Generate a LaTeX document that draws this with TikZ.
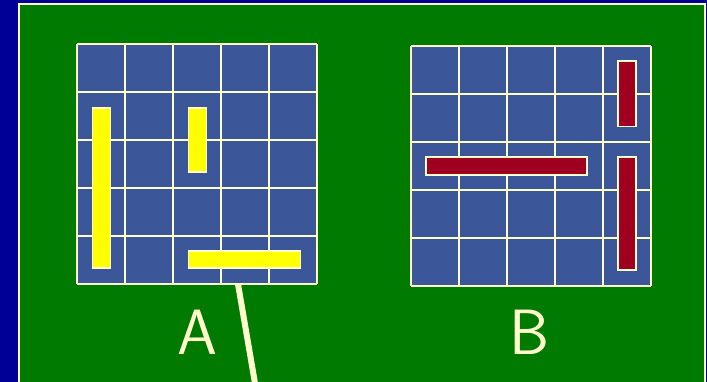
\documentclass[tikz,border=0pt]{standalone}
\usepackage{fontspec}
\definecolor{navy}{HTML}{000096}
\definecolor{field}{HTML}{007A00}
\definecolor{tileblue}{HTML}{3B5799}
\definecolor{cream}{HTML}{FFFFCC}
\definecolor{barred}{HTML}{A00020}
\definecolor{baryellow}{HTML}{FFFF00}
\tikzset{
  gridline/.style={draw=cream, line width=2pt},
  bar/.style={draw=cream, line width=1.3pt},
  letter/.style={text=cream, font=\sffamily\fontsize{64}{64}\selectfont, anchor=base}
}
\begin{document}
\begin{tikzpicture}[x=1pt, y=-1pt]
            \fill[navy] (0,0) rectangle (707,382);
            \useasboundingbox (0,0) rectangle (707,382);
            \filldraw[fill=field, draw=cream, line width=1.5pt] (19,4) rectangle (705,392);
            % board A
            \begin{scope}[shift={(76.5,44)}]
                \fill[tileblue] (0,0) rectangle (240,240);
                \foreach \i in {0,48,...,240} {
                    \draw[gridline] (\i,0) -- (\i,240);
                    \draw[gridline] (0,\i) -- (240,\i);
                }
                \filldraw[bar, fill=baryellow] (16,64) rectangle (34,224);
                \filldraw[bar, fill=baryellow] (112,64) rectangle (130,128);
                \filldraw[bar, fill=baryellow] (112,207) rectangle (224,224);
                \coordinate (footA) at (161.5,240);
            \end{scope}
            % board B
            \begin{scope}[shift={(411,46)}]
                \fill[tileblue] (0,0) rectangle (240,240);
                \foreach \i in {0,48,...,240} {
                    \draw[gridline] (\i,0) -- (\i,240);
                    \draw[gridline] (0,\i) -- (240,\i);
                }
                \filldraw[bar, fill=barred] (207,15) rectangle (225,80.5);
                \filldraw[bar, fill=barred] (15,111) rectangle (176,129);
                \filldraw[bar, fill=barred] (207,111) rectangle (225,224);
            \end{scope}
            \node[letter] (labA) at (197,354) {A};
            \node[letter] (labB) at (530,354) {B};
            \coordinate (pointer) at (256.5,392);
            \draw[cream, line width=6pt] (footA) -- (pointer);
        \end{tikzpicture}
\end{document}
